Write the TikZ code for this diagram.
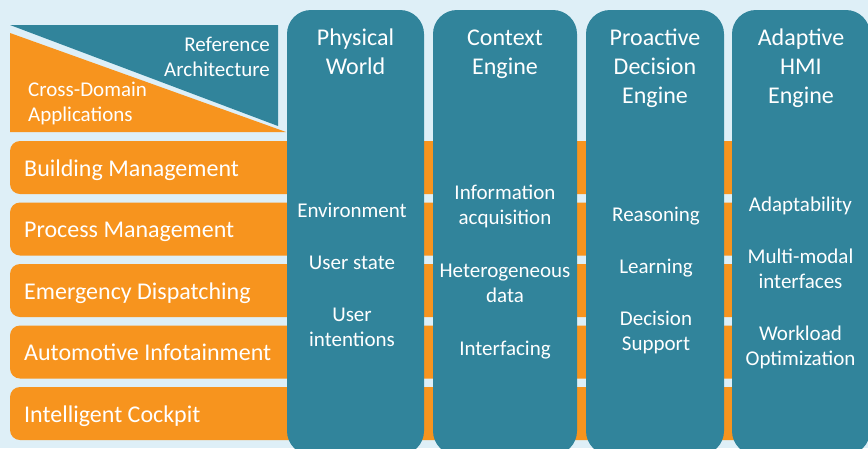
\documentclass[tikz,border=0pt]{standalone}
\usepackage{fontspec}
\setmainfont{Carlito}
\definecolor{bgc}{HTML}{DEEFF7}
\definecolor{tealc}{HTML}{31849B}
\definecolor{orangec}{HTML}{F7941E}
\begin{document}
\begin{tikzpicture}[x=1pt,y=-1pt,
  bar/.style={fill=orangec, rounded corners=10pt},
  col/.style={fill=tealc, rounded corners=24pt},
  bartext/.style={text=white, font=\fontsize{24}{29}\selectfont, anchor=base west, inner sep=0pt},
  head/.style={text=white, font=\fontsize{24}{29}\selectfont, align=center, anchor=base, inner sep=0pt},
  body/.style={text=white, font=\fontsize{21}{25}\selectfont, align=center, anchor=base, inner sep=0pt},
  corner/.style={text=white, font=\fontsize{21}{25}\selectfont, inner sep=0pt},
]
\useasboundingbox (0,0) rectangle (868,448);
\fill[bgc] (0,0) rectangle (868,448);

% corner triangles (the anchor "base" of a multi-line node is the baseline of its last line)
\fill[orangec] (10,33) -- (10,132) -- (286,132) -- cycle;
\fill[tealc] (10,25) -- (278,25) -- (278,126) -- cycle;
\node[corner, align=right, anchor=base east] (ref) at (270,76.7) {Reference\\Architecture};
\node[corner, align=left, anchor=base west] (cda) at (28,121.7) {Cross-Domain\\Applications};

% application bars
\fill[bar] (10,141) rectangle (890,194);
\fill[bar] (10,202.5) rectangle (890,255.5);
\fill[bar] (10,264) rectangle (890,317);
\fill[bar] (10,325.5) rectangle (890,378.5);
\fill[bar] (10,387) rectangle (890,440);
\node[bartext] (b1) at (24,176) {Building Management};
\node[bartext] (b2) at (24,237.5) {Process Management};
\node[bartext] (b3) at (24,299) {Emergency Dispatching};
\node[bartext] (b4) at (24,360.5) {Automotive Infotainment};
\node[bartext] (b5) at (24,422) {Intelligent Cockpit};

% architecture columns
\fill[col] (287,10) rectangle (424,455);
\fill[col] (433,10) rectangle (577,455);
\fill[col] (586,10) rectangle (724,455);
\fill[col] (732,10) rectangle (870,455);

\node[head] (h1) at (355.5,74) {Physical\\World};
\node[head] (h2) at (505,74) {Context\\Engine};
\node[head] (h3) at (655,103) {Proactive\\Decision\\Engine};
\node[head] (h4) at (801,103) {Adaptive\\HMI\\Engine};

\node[body] (p1) at (352,217.7) {Environment};
\node[body] (p2) at (352,269.3) {User state};
\node[body] (p3) at (352,346.7) {User\\intentions};

\node[body] (c1) at (505,224.3) {Information\\acquisition};
\node[body] (c2) at (505,302.3) {Heterogeneous\\data};
\node[body] (c3) at (505,355) {Interfacing};

\node[body] (d1) at (656,221.5) {Reasoning};
\node[body] (d2) at (656,273.5) {Learning};
\node[body] (d3) at (656,350) {Decision\\Support};

\node[body] (a1) at (800.5,211.5) {Adaptability};
\node[body] (a2) at (800.5,288.5) {Multi-modal\\interfaces};
\node[body] (a3) at (800.5,365.7) {Workload\\Optimization};
\end{tikzpicture}
\end{document}
